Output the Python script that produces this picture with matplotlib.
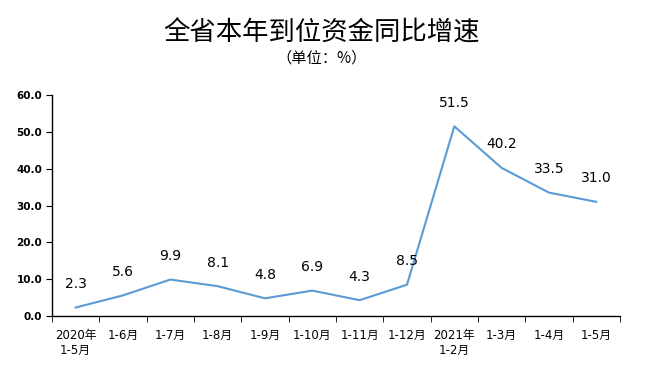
import numpy as np
import matplotlib
matplotlib.use("Agg")
import matplotlib.pyplot as plt

plt.rcParams['font.family'] = ['DejaVu Sans', 'Noto Sans CJK SC']

# chart data
periods = ["2020年\n1-5月", "1-6月", "1-7月", "1-8月", "1-9月", "1-10月",
           "1-11月", "1-12月", "2021年\n1-2月", "1-3月", "1-4月", "1-5月"]
growth = [2.3, 5.6, 9.9, 8.1, 4.8, 6.9, 4.3, 8.5, 51.5, 40.2, 33.5, 31.0]
y_ticks = [0, 10, 20, 30, 40, 50, 60]

fig = plt.figure(figsize=(6.48, 3.72), dpi=100)
ax = fig.add_axes([0.0802, 0.1505, 0.8766, 0.5941])

x = np.arange(len(periods))
ax.plot(x, growth, color="#5B9BD5", linewidth=1.5)

# value labels above points
for xi, v in zip(x, growth):
    ax.annotate(f"{v:.1f}", (xi, v), xytext=(0, 17), textcoords="offset points",
                ha="center", va="center", fontsize=10, color="black")

ax.set_xlim(-0.5, len(periods) - 0.5)
ax.set_ylim(0, 60)
ax.set_yticks(y_ticks)
ax.set_yticklabels([f"{t:.1f}" for t in y_ticks], fontsize=7.5, fontweight="bold")

# category labels centered, ticks on boundaries
ax.set_xticks(x)
ax.set_xticklabels(periods, fontsize=8.5, linespacing=1.25)
ax.set_xticks(np.arange(-0.5, len(periods)), minor=True)
ax.tick_params(axis="x", which="major", length=0, pad=9)
ax.tick_params(axis="x", which="minor", length=4, direction="out")
ax.tick_params(axis="y", length=4, direction="out", pad=3)

for s in ["top", "right"]:
    ax.spines[s].set_visible(False)
for s in ["left", "bottom"]:
    ax.spines[s].set_linewidth(1.0)

fig.text(0.497, 0.912, "全省本年到位资金同比增速", ha="center", va="center",
         fontsize=19, family=['Noto Sans CJK SC'])
fig.text(0.497, 0.843, "（单位：%）", ha="center", va="center", fontsize=11,
         family=['Noto Sans CJK SC'])

fig.savefig("out.png", dpi=100)
